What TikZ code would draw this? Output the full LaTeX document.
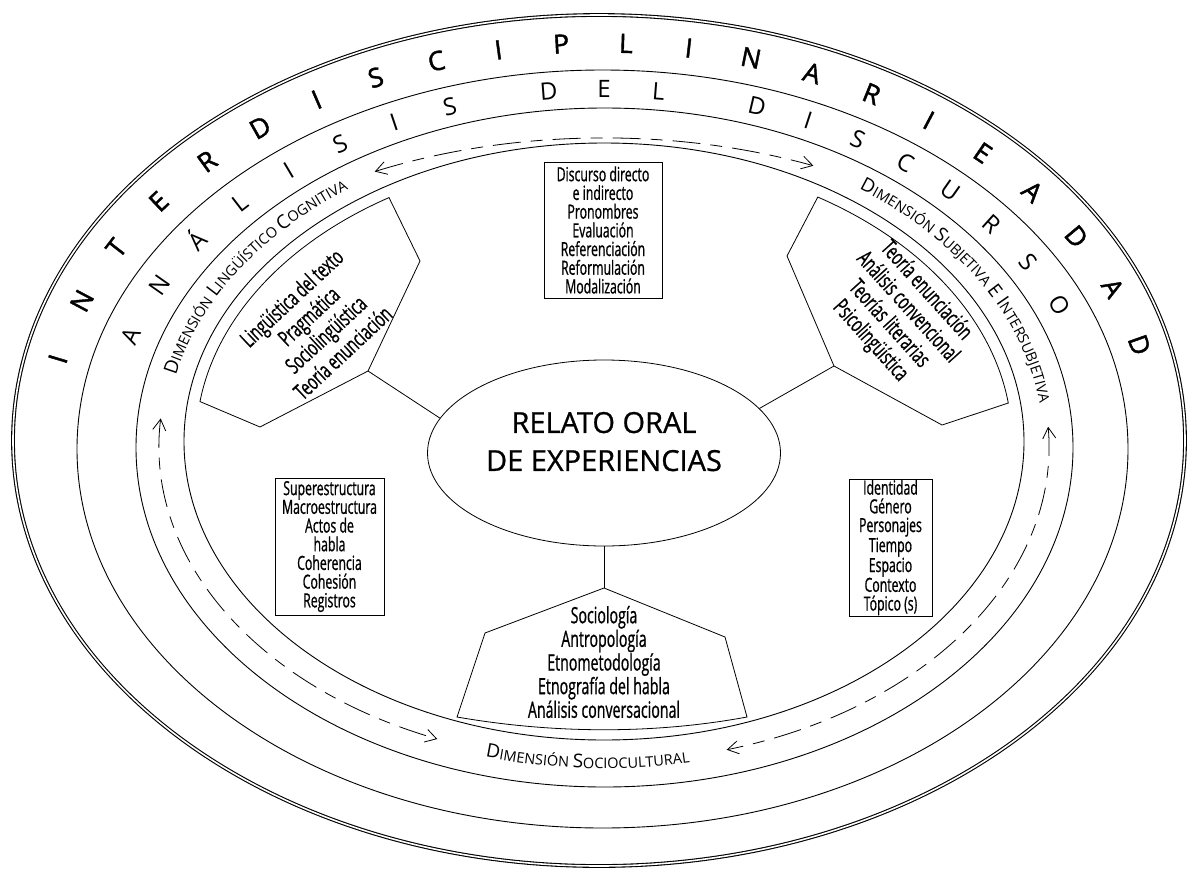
\documentclass[tikz,border=0pt]{standalone}
\usepackage{fontspec}
\setmainfont{Open Sans}
\newfontfamily\condf[FakeStretch=0.63,FakeBold=0.8]{Open Sans}
\newfontfamily\bigf[FakeBold=1.6]{Open Sans}
\newfontfamily\relf[FakeBold=0.8]{Open Sans}
\usetikzlibrary{shapes.geometric,decorations.markings,decorations.text,arrows.meta}
\newcommand\dimB{\fontsize{19}{19}\selectfont}
\newcommand\dimS{\fontsize{14.5}{14.5}\selectfont}
\begin{document}
\begin{tikzpicture}[x=1pt,y=1pt,
  ring/.style={draw, line width=0.9pt},
  shp/.style={draw, line width=0.8pt},
  boxn/.style={draw, line width=0.8pt, inner sep=0pt, align=center, font=\condf\fontsize{19.5}{18.7}\selectfont},
  hexn/.style={inner sep=0pt, align=center, font=\condf\fontsize{22.5}{25}\selectfont},
  pentn/.style={inner sep=0pt, align=center, font=\condf\fontsize{22.5}{22.5}\selectfont},
  bigl/.style={transform shape, inner sep=0pt, text height=19pt, text depth=0pt, font=\bigf\fontsize{26.5}{26.5}\selectfont},
  midl/.style={transform shape, inner sep=0pt, text height=17.2pt, text depth=0pt, font=\fontsize{24}{24}\selectfont},
  dimarr/.style={line width=0.8pt, dash pattern=on 28pt off 10pt on 12pt off 10pt, {Straight Barb[length=11pt,width=13pt]}-{Straight Barb[length=11pt,width=13pt]}},
]
\useasboundingbox (0,0) rectangle (1188,-870);

% rings
\coordinate (c1) at (599,-440.5);
\draw[line width=1.1pt, double distance=1.6pt] (c1) ellipse [x radius=586, y radius=425.5];
\coordinate (c2) at (602.5,-449);
\draw[ring] (c2) ellipse [x radius=525.5, y radius=379];
\coordinate (c3) at (604.5,-447.5);
\draw[ring] (c3) ellipse [x radius=468.5, y radius=339.5];
\coordinate (c4) at (604,-441.5);
\draw[ring] (c4) ellipse [x radius=420, y radius=298.5];
\coordinate (cI) at (601,-445);
\coordinate (cA) at (603.5,-448);
\coordinate (cD) at (604.25,-444.5);
\coordinate (c0) at (604,-446);

% central ellipse
\node[ellipse, draw, line width=0.8pt, minimum width=353pt, minimum height=186pt, inner sep=0pt] (rel) at (604,-453) {};
\node[inner sep=0pt, align=center, font=\relf\fontsize{29}{38}\selectfont] (reltext) at (604,-441.6) {RELATO ORAL\\DE EXPERIENCIAS};

% boxes
\node[boxn, minimum width=118pt, minimum height=136pt] (btop) at (603,-230) {Discurso directo\\e indirecto\\Pronombres\\Evaluación\\Referenciación\\Reformulación\\Modalización};
\node[boxn, minimum width=109pt, minimum height=137pt] (bleft) at (329.5,-546.5) {Superestructura\\Macroestructura\\Actos de\\habla\\Coherencia\\Cohesión\\Registros};
\node[boxn, minimum width=83pt, minimum height=137pt] (bright) at (890.5,-547.5) {Identidad\\Género\\Personajes\\Tiempo\\Espacio\\Contexto\\Tópico (s)};

% left hexagon
\draw[shp] (c4) ++(172:408 and 287) coordinate (lhL) arc[start angle=172, end angle=121.8, x radius=408, y radius=287] coordinate (lhT) -- (420,-261) coordinate (lhR) -- (368,-371) coordinate (lhLR) -- (260,-427) coordinate (lhB) -- cycle;
% right hexagon
\draw[shp] (c4) ++(7.7:408 and 287) coordinate (rhR) arc[start angle=7.7, end angle=58.4, x radius=408, y radius=287] coordinate (rhT) -- (787,-256) coordinate (rhL) -- (834,-366) coordinate (rhLL) -- (942,-425) coordinate (rhB) -- cycle;
% pentagon
\draw[shp] (604,-588) coordinate (pA) -- (485,-633) coordinate (pUL) -- (457,-717) coordinate (pLL) .. controls (555,-734) and (655,-734) .. (747,-717) coordinate (pLR) -- (725,-637) coordinate (pUR) -- cycle;

% connectors
\draw[shp] (lhLR) -- (rel.168);
\draw[shp] (rhLL) -- (rel.16);
\draw[shp] (rel.south) -- (pA);

% inner texts
\node[hexn, rotate=43] (ltx) at (317,-325) {Lingüística del texto\\Pragmática\\Sociolingüística\\Teoría enunciación};
\node[hexn, rotate=-48] (rtx) at (898,-316) {Teoría enunciación\\Análisis convencional\\Teorías literarias\\Psicolingüística};
\node[pentn] (ptx) at (604,-662) {Sociología\\Antropología\\Etnometodología\\Etnografía del habla\\Análisis conversacional};

% INTERDISCIPLINARIEADAD
\path[decorate, decoration={markings,
  mark=at position -670pt with {\node[bigl] (i1) {I};},
  mark=at position -607pt with {\node[bigl] (i2) {N};},
  mark=at position -544pt with {\node[bigl] (i3) {T};},
  mark=at position -481pt with {\node[bigl] (i4) {E};},
  mark=at position -418pt with {\node[bigl] (i5) {R};},
  mark=at position -355pt with {\node[bigl] (i6) {D};},
  mark=at position -292pt with {\node[bigl] (i7) {I};},
  mark=at position -229pt with {\node[bigl] (i8) {S};},
  mark=at position -166pt with {\node[bigl] (i9) {C};},
  mark=at position -103pt with {\node[bigl] (i10) {I};},
  mark=at position -40pt with {\node[bigl] (i11) {P};}}]
  (cI) ++(176:556 and 402) arc[start angle=176, end angle=90, x radius=556, y radius=402];
\path[decorate, decoration={markings,
  mark=at position 25pt with {\node[bigl] (i12) {L};},
  mark=at position 88pt with {\node[bigl] (i13) {I};},
  mark=at position 151pt with {\node[bigl] (i14) {N};},
  mark=at position 214pt with {\node[bigl] (i15) {A};},
  mark=at position 277pt with {\node[bigl] (i16) {R};},
  mark=at position 340pt with {\node[bigl] (i17) {I};},
  mark=at position 403pt with {\node[bigl] (i18) {E};},
  mark=at position 466pt with {\node[bigl] (i19) {A};},
  mark=at position 529pt with {\node[bigl] (i20) {D};},
  mark=at position 592pt with {\node[bigl] (i21) {A};},
  mark=at position 655pt with {\node[bigl] (i22) {D};}}]
  (cI) ++(90:556 and 402) arc[start angle=90, end angle=4, x radius=556, y radius=402];

% ANALISIS DEL DISCURSO
\path[decorate, decoration={markings,
  mark=at position -561pt with {\node[midl] (a1) {A};},
  mark=at position -503pt with {\node[midl] (a2) {N};},
  mark=at position -445pt with {\node[midl] (a3) {Á};},
  mark=at position -387pt with {\node[midl] (a4) {L};},
  mark=at position -329pt with {\node[midl] (a5) {I};},
  mark=at position -271pt with {\node[midl] (a6) {S};},
  mark=at position -213pt with {\node[midl] (a7) {I};},
  mark=at position -155pt with {\node[midl] (a8) {S};},
  mark=at position -55pt with {\node[midl] (a9) {D};}}]
  (cA) ++(176:497 and 359) arc[start angle=176, end angle=90, x radius=497, y radius=359];
\path[decorate, decoration={markings,
  mark=at position 0.5pt with {\node[midl] (a10) {E};},
  mark=at position 55pt with {\node[midl] (a11) {L};},
  mark=at position 155pt with {\node[midl] (a12) {D};},
  mark=at position 208pt with {\node[midl] (a13) {I};},
  mark=at position 261pt with {\node[midl] (a14) {S};},
  mark=at position 314pt with {\node[midl] (a15) {C};},
  mark=at position 367pt with {\node[midl] (a16) {U};},
  mark=at position 420pt with {\node[midl] (a17) {R};},
  mark=at position 473pt with {\node[midl] (a18) {S};},
  mark=at position 526pt with {\node[midl] (a19) {O};}}]
  (cA) ++(90:497 and 359) arc[start angle=90, end angle=4, x radius=497, y radius=359];

% dimension labels
\path[decorate, decoration={text along path, text align=center,
  text={|\dimB|D|\dimS|IMENSIÓN |\dimB|L|\dimS|INGÜÍSTICO |\dimB|C|\dimS|OGNITIVA}}]
  (cD) ++(172:439 and 314) arc[start angle=172, end angle=122, x radius=439, y radius=314];
\path[decorate, decoration={text along path, text align=center,
  text={|\dimB|D|\dimS|IMENSIÓN |\dimB|S|\dimS|UBJETIVA |\dimB|E |\dimB|I|\dimS|NTERSUBJETIVA}}]
  (cD) ++(58:439 and 314) arc[start angle=58, end angle=3, x radius=439, y radius=314];
\path[decorate, decoration={text along path, text align=center,
  text={|\dimB|D|\dimS|IMENSIÓN |\dimB|S|\dimS|OCIOCULTURAL}}]
  (cD) ++(251.8:449 and 324) arc[start angle=251.8, end angle=283.8, x radius=449, y radius=324];

% dashed double arrows
\draw[dimarr] (c0) ++(117:505 and 308) arc[start angle=117, end angle=65.5, x radius=505, y radius=308];
\draw[dimarr] (c0) ++(3.5:445 and 316) arc[start angle=3.5, end angle=-74, x radius=445, y radius=316];
\draw[dimarr] (c0) ++(175:445 and 316) arc[start angle=175, end angle=248, x radius=445, y radius=316];
\end{tikzpicture}
\end{document}
